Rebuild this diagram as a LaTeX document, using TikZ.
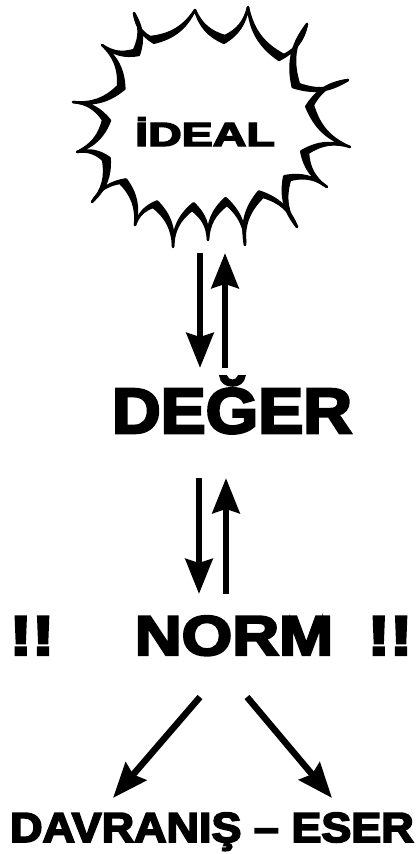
\documentclass[tikz,border=0pt]{standalone}
\usepackage{fontspec}
\usetikzlibrary{arrows.meta}
\newfontfamily\heavy{Liberation Sans Bold}[FakeBold=4]
\begin{document}
\begin{tikzpicture}[x=1pt,y=-1pt,
  lbl/.style={inner sep=0pt, anchor=base, text=black},
  arr/.style={line width=6.5pt, -{Stealth[length=35pt,width=27pt,inset=4pt]}},
  burstline/.style={line width=2.4pt, line join=round},
  bb/.style={bend right=25}]
\fill[white] (0,0) rectangle (417,854);
\useasboundingbox (0,0) rectangle (417,854);

\def\outerburst{(134,13) to[bb] (150,37) to[bb] (195,10)
  to[bb] (225,36) to[bb] (248,7)
  to[bb] (284,55) to[bb] (307,24)
  to[bb] (299,84) to[bb] (348,80)
  to[bb] (313,105) to[bb] (350,147)
  to[bb] (308,153) to[bb] (327,187)
  to[bb] (290,180) to[bb] (297,227)
  to[bb] (263,197) to[bb] (245,245)
  to[bb] (227,205) to[bb] (208,240)
  to[bb] (192,210) to[bb] (173,247)
  to[bb] (153,207) to[bb] (135,225)
  to[bb] (120,183) to[bb] (92,202)
  to[bb] (103,160) to[bb] (77,152)
  to[bb] (103,120) to[bb] (73,102)
  to[bb] (118,86) to[bb] (102,45)
  to[bb] (134,50) to[bb] cycle}
\def\innerburst{(134,13) to[bb] (153.9,42.8) to[bb] (195,10)
  to[bb] (224,42.9) to[bb] (248,7)
  to[bb] (279,60) to[bb] (307,24)
  to[bb] (292.7,87.1) to[bb] (348,80)
  to[bb] (306.2,106.5) to[bb] (350,147)
  to[bb] (301.2,151.3) to[bb] (327,187)
  to[bb] (284.2,176.2) to[bb] (297,227)
  to[bb] (258.8,191.4) to[bb] (245,245)
  to[bb] (225.6,198.1) to[bb] (208,240)
  to[bb] (193.6,203.2) to[bb] (173,247)
  to[bb] (157.1,201.4) to[bb] (135,225)
  to[bb] (126,179.4) to[bb] (92,202)
  to[bb] (109.7,158) to[bb] (77,152)
  to[bb] (110,120.5) to[bb] (73,102)
  to[bb] (124.4,88.9) to[bb] (102,45)
  to[bb] (138.9,55) to[bb] cycle}
\fill[black, even odd rule] \outerburst \innerburst;
\draw[burstline] \outerburst;
\draw[burstline] \innerburst;

\node[lbl] (ideal) at (205,146) {\fontsize{33.5pt}{40pt}\heavy\scalebox{1.39}[1]{İDEAL}};
\node[lbl] (deger) at (232,433) {\fontsize{64pt}{70pt}\heavy\scalebox{1.055}[1]{DEĞER}};
\node[lbl] (norm) at (234,655) {\fontsize{56pt}{60pt}\heavy\scalebox{1.16}[1]{NORM}};
\node[lbl] (exl) at (32,655) {\fontsize{56pt}{60pt}\heavy\scalebox{1.2}[1]{!!}};
\node[lbl] (exr) at (390,655) {\fontsize{56pt}{60pt}\heavy\scalebox{1.2}[1]{!!}};
\node[lbl] (out) at (212,842) {\fontsize{42pt}{48pt}\heavy\scalebox{1.07}[1]{DAVRANIŞ – ESER}};

\coordinate (d1s) at (200,253); \coordinate (d1e) at (200,368);
\coordinate (u1s) at (225,368); \coordinate (u1e) at (225,253);
\coordinate (d2s) at (199,478); \coordinate (d2e) at (199,594);
\coordinate (u2s) at (226,594); \coordinate (u2e) at (226,478);
\coordinate (ls) at (200,697); \coordinate (le) at (113,798);
\coordinate (rs) at (247,697); \coordinate (re) at (332,798);

\draw[arr] (d1s) -- (d1e);
\draw[arr] (u1s) -- (u1e);
\draw[arr] (d2s) -- (d2e);
\draw[arr] (u2s) -- (u2e);
\draw[arr] (ls) -- (le);
\draw[arr] (rs) -- (re);
\end{tikzpicture}
\end{document}
